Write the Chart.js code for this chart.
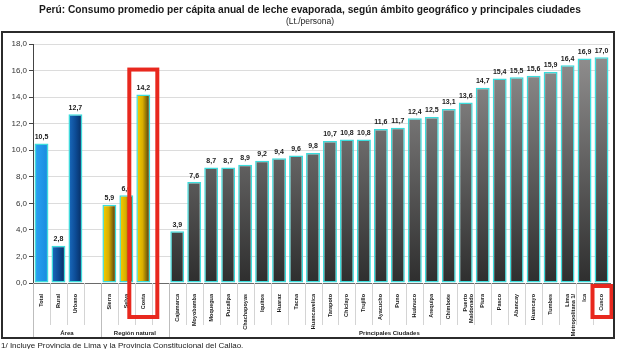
<!DOCTYPE html>
<html>
<head>
<meta charset="utf-8">
<script src="https://cdn.jsdelivr.net/npm/chart.js@4.4.1/dist/chart.umd.min.js"></script>
<style>
  html, body { margin: 0; padding: 0; background: #fff; }
  canvas { display: block; }
</style>
</head>
<body>
<canvas id="lecheChart" width="620" height="349"></canvas>
<script>
// categories (empty strings are the gaps between groups)
const categories = [
    "Total", "Rural", "Urbano", "",
    "Sierra", "Selva", "Costa", "",
    "Cajamarca", "Moyobamba", "Moquegua", "Pucallpa", "Chachapoyas", "Iquitos",
    "Huaraz", "Tacna", "Huancavelica", "Tarapoto", "Chiclayo", "Trujillo",
    "Ayacucho", "Puno", "Huánuco", "Arequipa", "Chimbote", ["Puerto", "Maldonado"],
    "Piura", "Pasco", "Abancay", "Huancayo", "Tumbes", ["Lima", "Metropolitana 1/"],
    "Ica", "Cusco"
];

const consumo = [
    10.5, 2.8, 12.7, null,
    5.9, 6.6, 14.2, null,
    3.9, 7.6, 8.7, 8.7, 8.9, 9.2,
    9.4, 9.6, 9.8, 10.7, 10.8, 10.8,
    11.6, 11.7, 12.4, 12.5, 13.1, 13.6,
    14.7, 15.4, 15.5, 15.6, 15.9, 16.4,
    16.9, 17.0
];

const groupLabels = ["Área", "Región natural", "Principales Ciudades"];
const groupSizes = [4, 4, 26];

const yTicks = [0, 2, 4, 6, 8, 10, 12, 14, 16, 18];

const highlightBar = 6;    // Costa
const highlightLabel = 33; // Cusco

const fmt = v => v.toFixed(1).replace(".", ",");

function groupOf(i) {
    let acc = 0;
    for (let g = 0; g < groupSizes.length; g++) {
        acc += groupSizes[g];
        if (i < acc) return g;
    }
    return groupSizes.length - 1;
}

function barFill(ctx) {
    const chart = ctx.chart;
    const area = chart.chartArea;
    const xs = chart.scales.x;
    const i = ctx.dataIndex;
    if (!area || !xs) return "#888";
    const c = chart.ctx;
    const cx = xs.getPixelForValue(i);
    const half = 7;
    const g = groupOf(i);
    let grad;
    if (g === 2) {
        grad = c.createLinearGradient(0, area.top, 0, area.bottom);
        grad.addColorStop(0, "#959393");
        grad.addColorStop(1, "#2e2e2e");
        return grad;
    }
    grad = c.createLinearGradient(cx - half, 0, cx + half, 0);
    if (g === 0 && i === 0) {
        grad.addColorStop(0, "#2aa3f2");
        grad.addColorStop(1, "#168ade");
    } else if (g === 0) {
        grad.addColorStop(0, "#1b6cc0");
        grad.addColorStop(0.5, "#0d4c96");
        grad.addColorStop(1, "#062a5e");
    } else {
        grad.addColorStop(0, "#f7d200");
        grad.addColorStop(0.45, "#d8ae00");
        grad.addColorStop(1, "#3a2c12");
    }
    return grad;
}

const decorPlugin = {
    id: "decor",
    beforeDraw(chart) {
        const c = chart.ctx;
        c.save();
        c.fillStyle = "#fff";
        c.fillRect(0, 0, chart.width, chart.height);
        // title
        c.fillStyle = "#1a1a1a";
        c.textAlign = "center";
        c.textBaseline = "middle";
        c.font = "bold 10.2px 'Liberation Sans', Arial, sans-serif";
        c.fillText("Perú: Consumo promedio per cápita anual de leche evaporada, según ámbito geográfico y principales ciudades", 310, 10);
        c.font = "8.5px 'Liberation Sans', Arial, sans-serif";
        c.fillText("(Lt./persona)", 310, 22);
        // footnote
        c.textAlign = "left";
        c.textBaseline = "top";
        c.font = "8px 'Liberation Sans', Arial, sans-serif";
        c.fillText("1/ Incluye Provincia de Lima y la Provincia Constitucional del Callao.", 1, 342);
        c.restore();
    },
    afterDraw(chart) {
        const c = chart.ctx;
        const xs = chart.scales.x;
        const ys = chart.scales.y;
        const area = chart.chartArea;
        const step = (area.right - area.left) / categories.length;
        c.save();
        // category separators below the axis
        c.strokeStyle = "#d4d4d4";
        c.lineWidth = 1;
        for (let i = 1; i < categories.length; i++) {
            const x = Math.round(area.left + i * step) + 0.5;
            c.beginPath();
            c.moveTo(x, area.bottom);
            c.lineTo(x, area.bottom + 42);
            c.stroke();
        }
        // group separators and labels
        let start = 0;
        c.fillStyle = "#1a1a1a";
        c.font = "bold 6px 'Liberation Sans', Arial, sans-serif";
        c.textAlign = "center";
        c.textBaseline = "middle";
        groupLabels.forEach((lbl, g) => {
            const x0 = area.left + start * step;
            const x1 = area.left + (start + groupSizes[g]) * step;
            c.strokeStyle = "#bdbdbd";
            c.beginPath();
            c.moveTo(Math.round(x0) + 0.5, area.bottom);
            c.lineTo(Math.round(x0) + 0.5, area.bottom + 55);
            c.stroke();
            c.fillText(lbl, (x0 + x1) / 2, area.bottom + 50);
            start += groupSizes[g];
        });
        // value labels
        const meta = chart.getDatasetMeta(0);
        c.font = "bold 7px 'Liberation Sans', Arial, sans-serif";
        c.textBaseline = "bottom";
        meta.data.forEach((bar, i) => {
            const v = consumo[i];
            if (v == null) return;
            c.fillText(fmt(v), bar.x, bar.y - 3);
        });
        // highlight boxes
        c.strokeStyle = "#e8281e";
        c.lineWidth = 4;
        const hx = xs.getPixelForValue(highlightBar);
        const top = ys.getPixelForValue(16) - 1;
        c.strokeRect(hx - 14, top, 28, area.bottom + 34 - top);
        const lx = xs.getPixelForValue(highlightLabel);
        c.strokeRect(lx - 9, area.bottom + 3, 19, 31);
        // outer frame
        c.strokeStyle = "#2b2b2b";
        c.lineWidth = 2;
        c.strokeRect(2, 32, 612, 306);
        c.restore();
    }
};

new Chart(document.getElementById("lecheChart"), {
    type: "bar",
    data: {
        labels: categories,
        datasets: [{
            data: consumo,
            backgroundColor: barFill,
            borderColor: "#3cdcdc",
            borderWidth: 1.5,
            borderSkipped: false,
            categoryPercentage: 1,
            barPercentage: 0.82
        }]
    },
    options: {
        responsive: false,
        animation: false,
        layout: { padding: { top: 44, left: 2, right: 10, bottom: 10 } },
        plugins: {
            legend: { display: false },
            tooltip: { enabled: false }
        },
        scales: {
            x: {
                afterFit: s => { s.height = 56; },
                grid: { display: false },
                border: { color: "#6a6a6a", width: 1 },
                ticks: {
                    autoSkip: false,
                    maxRotation: 90,
                    minRotation: 90,
                    padding: 3,
                    color: "#1a1a1a",
                    font: { family: "'Liberation Sans', Arial, sans-serif", size: 5.5, weight: "bold", lineHeight: 1 }
                }
            },
            y: {
                min: 0,
                max: 18,
                afterFit: s => { s.width = 31; },
                afterBuildTicks: s => { s.ticks = yTicks.map(v => ({ value: v })); },
                grid: { color: "#dcdcdc", tickColor: "#444", tickLength: 4 },
                border: { color: "#444", width: 1 },
                ticks: {
                    padding: 2,
                    color: "#333",
                    callback: v => fmt(v),
                    font: { family: "'Liberation Sans', Arial, sans-serif", size: 8 }
                }
            }
        }
    },
    plugins: [decorPlugin]
});
</script>
</body>
</html>
